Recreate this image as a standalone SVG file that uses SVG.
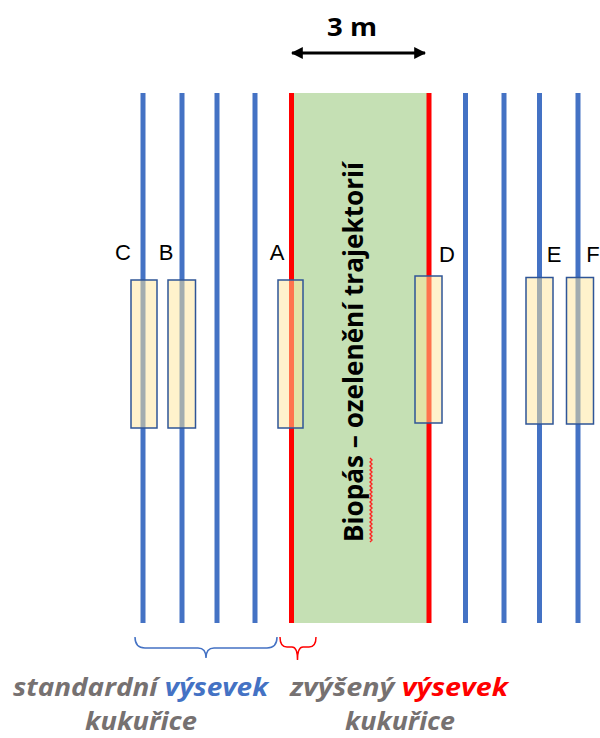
<svg xmlns="http://www.w3.org/2000/svg" width="600" height="738" viewBox="0 0 600 738">
  <defs>
    <style>
      .row { stroke: #4472c4; stroke-width: 5; fill: none; }
      .red { stroke: #ff0000; stroke-width: 5; fill: none; }
      .box { fill: #ffe699; fill-opacity: 0.5; stroke: #2f5597; stroke-width: 1.5; }
      .lbl { font-family: "Liberation Sans", Arial, sans-serif; font-size: 22px; fill: #000; text-anchor: middle; }
      .cap { font-family: "Open Sans", "Liberation Sans", sans-serif; font-size: 24.5px; font-weight: bold; font-style: italic; fill: #767171; }
      .brace { fill: none; stroke-width: 1.5; }
    </style>
    <marker id="ah" viewBox="0 0 10 10" refX="9" refY="5" markerWidth="4" markerHeight="4" orient="auto-start-reverse">
      <path d="M0,0 L10,5 L0,10 Z" fill="#000"/>
    </marker>
  </defs>
  <rect width="600" height="738" fill="#fff"/>

  <g id="biopas">
    <rect x="291" y="93" width="138" height="530" fill="#c5e0b4"/>
    <text transform="translate(363,352) rotate(-90)" font-family="Open Sans, Liberation Sans, sans-serif" font-size="26" font-weight="bold" text-anchor="middle" textLength="380" lengthAdjust="spacingAndGlyphs" fill="#000">Biopás – ozelenění trajektorií</text>
    <path d="M370,542 l2,-2 l-2,-2 l2,-2 l-2,-2 l2,-2 l-2,-2 l2,-2 l-2,-2 l2,-2 l-2,-2 l2,-2 l-2,-2 l2,-2 l-2,-2 l2,-2 l-2,-2 l2,-2 l-2,-2 l2,-2 l-2,-2 l2,-2 l-2,-2 l2,-2 l-2,-2 l2,-2 l-2,-2 l2,-2 l-2,-2 l2,-2 l-2,-2 l2,-2 l-2,-2 l2,-2 l-2,-2 l2,-2 l-2,-2 l2,-2 l-2,-2 l2,-2 l-2,-2 l2,-2 l-2,-2" fill="none" stroke="#ff2020" stroke-width="1.4"/>
  </g>

  <g id="rows">
    <line class="row" x1="143" y1="93" x2="143" y2="623"/>
    <line class="row" x1="182" y1="93" x2="182" y2="623"/>
    <line class="row" x1="217" y1="93" x2="217" y2="623"/>
    <line class="row" x1="255" y1="93" x2="255" y2="623"/>
    <line class="red" x1="291.5" y1="93" x2="291.5" y2="623"/>
    <line class="red" x1="429" y1="93" x2="429" y2="623"/>
    <line class="row" x1="465.5" y1="93" x2="465.5" y2="623"/>
    <line class="row" x1="504" y1="93" x2="504" y2="623"/>
    <line class="row" x1="539.5" y1="93" x2="539.5" y2="623"/>
    <line class="row" x1="578" y1="93" x2="578" y2="623"/>
  </g>

  <g id="sample-C">
    <rect class="box" x="131" y="280" width="26" height="148"/>
    <text class="lbl" x="123" y="260">C</text>
  </g>
  <g id="sample-B">
    <rect class="box" x="168" y="280" width="27.5" height="148"/>
    <text class="lbl" x="166" y="260">B</text>
  </g>
  <g id="sample-A">
    <rect class="box" x="278" y="280" width="25" height="148"/>
    <text class="lbl" x="277" y="260">A</text>
  </g>
  <g id="sample-D">
    <rect class="box" x="415" y="276" width="27" height="147"/>
    <text class="lbl" x="447" y="262">D</text>
  </g>
  <g id="sample-E">
    <rect class="box" x="526" y="277.5" width="27" height="146.5"/>
    <text class="lbl" x="554" y="262">E</text>
  </g>
  <g id="sample-F">
    <rect class="box" x="566.5" y="277.5" width="27" height="146.5"/>
    <text class="lbl" x="593" y="262">F</text>
  </g>

  <g id="connectors">
    <line x1="292" y1="53" x2="425" y2="53" stroke="#000" stroke-width="3" marker-start="url(#ah)" marker-end="url(#ah)"/>
    <path class="brace" stroke="#4472c4" d="M135,637 Q135,648 145,648 L198,648 Q206,648 206,658 Q206,648 214,648 L267,648 Q277,648 277,637"/>
    <path class="brace" stroke="#ff0000" d="M280,637 Q280,647 287,647 L292,647 Q297.5,647 297.5,660 Q297.5,647 303,647 L309,647 Q316,647 316,637"/>
  </g>

  <g id="dimension">
    <text x="352" y="36" font-family="Open Sans, Liberation Sans, sans-serif" font-size="25" font-weight="bold" text-anchor="middle" textLength="50" lengthAdjust="spacingAndGlyphs">3 m</text>
  </g>

  <g id="caption-standard">
    <text class="cap" x="13" y="696" textLength="255" lengthAdjust="spacingAndGlyphs">standardní <tspan fill="#4472c4">výsevek</tspan></text>
    <text class="cap" x="85" y="730" textLength="112" lengthAdjust="spacingAndGlyphs">kukuřice</text>
  </g>
  <g id="caption-increased">
    <text class="cap" x="290" y="696" textLength="218" lengthAdjust="spacingAndGlyphs">zvýšený <tspan fill="#ff0000">výsevek</tspan></text>
    <text class="cap" x="345" y="730" textLength="110" lengthAdjust="spacingAndGlyphs">kukuřice</text>
  </g>
</svg>
